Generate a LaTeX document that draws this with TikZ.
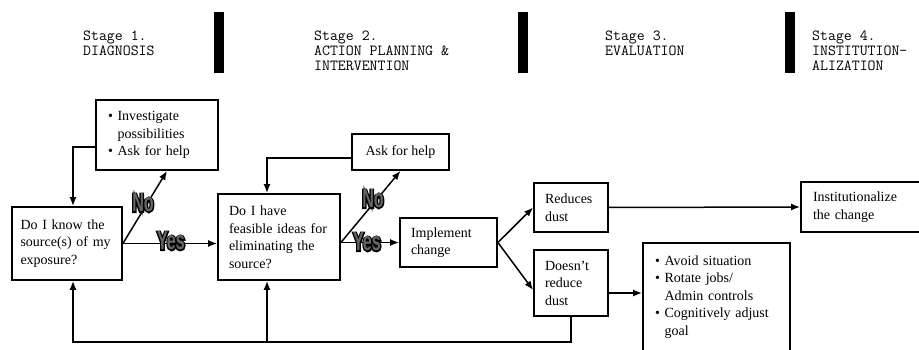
\documentclass[tikz,border=0pt]{standalone}
\usepackage{fontspec}
\setmainfont{Liberation Serif}
\newfontfamily\markfont[FakeStretch=0.62]{Liberation Sans}
\newfontfamily\markheavy[FakeStretch=0.62,FakeBold=10]{Liberation Sans}
\usepackage{tikz}
\usetikzlibrary{arrows.meta,positioning,calc}

\newcommand{\itm}{\textbullet\ }
\newcommand{\hng}{\phantom{\textbullet\ }}
\newcommand{\ynlabel}[1]{\makebox[0pt]{\color{black}\markheavy\bfseries #1}\makebox[0pt]{\color{black!60}\markfont\bfseries #1}}

\begin{document}
\begin{tikzpicture}[x=1pt, y=-1pt,
    box/.style={rectangle, draw, line width=1.8pt, align=left, inner sep=0pt, font=\fontsize{14}{17.5}\selectfont},
    stage/.style={anchor=north west, align=left, inner sep=0pt, font=\ttfamily\addfontfeature{FakeStretch=1.14,FakeBold=1.5}\fontsize{15.4}{15}\selectfont},
    yn/.style={inner sep=0pt, font=\fontsize{26}{26}\selectfont},
    arrow/.style={->, line width=1.5pt, >={Latex[length=9pt,width=7pt]}},
    link/.style={line width=1.5pt}
]
    \useasboundingbox (0,0) rectangle (919,350);

    % Stage headings
    \node[stage] (stage1) at (83,31) {Stage 1.\\DIAGNOSIS};
    \node[stage] (stage2) at (314,31) {Stage 2.\\ACTION PLANNING \&\\INTERVENTION};
    \node[stage] (stage3) at (605,31) {Stage 3.\\EVALUATION};
    \node[stage] (stage4) at (812,31) {Stage 4.\\INSTITUTION-\\ALIZATION};

    % Dividers
    \foreach \x in {214, 518, 785} {
        \fill (\x,12) rectangle (\x+9.5,73);
    }

    % Boxes
    \node[box, minimum width=122, minimum height=70, text width=98] (inv) at (157,135)
        {\itm Investigate\\\hng possibilities\\\itm Ask for help};
    \node[box, minimum width=110, minimum height=73, text width=93] (know) at (67,243.5)
        {Do I know the\\source(s) of my\\exposure?};
    \node[box, minimum width=122, minimum height=86, text width=100] (have) at (279,237)
        {Do I have\\feasible ideas for\\eliminating the\\source?};
    \node[box, minimum width=97, minimum height=36] (ask) at (400.5,152) {Ask for help};
    \node[box, minimum width=97, minimum height=49, text width=75] (impl) at (448.5,242.5)
        {Implement\\change};
    \node[box, minimum width=74, minimum height=49, text width=52] (red) at (571,207.5)
        {Reduces\\dust};
    \node[box, minimum width=74, minimum height=66, text width=52] (nored) at (571,283)
        {Doesn't\\reduce\\dust};
    \node[box, minimum width=147, minimum height=108, text width=123] (avoid) at (716.5,297)
        {\itm Avoid situation\\\itm Rotate jobs/\\\hng Admin controls\\\itm Cognitively adjust\\\hng goal};
    \node[box, minimum width=124, minimum height=50, text width=100] (inst) at (863,207)
        {Institutionalize\\the change};

    % Connectors
    \coordinate (fork1) at (know.east);
    \coordinate (fork2) at (have.east |- impl.west);
    \coordinate (knowIn) at ([xshift=6pt]know.south);
    \coordinate (haveIn) at ([xshift=-12pt]have.south);
    \coordinate (loopL) at (73,342);

    \draw[arrow] ([yshift=-12pt]inv.west) -| ([xshift=6pt]know.north);
    \draw[arrow] (fork1) -- ([xshift=10pt]inv.south);
    \draw[arrow] (fork1) -- (have.west |- fork1);
    \draw[arrow] ([yshift=-6pt]ask.west) -| ([xshift=-12pt]have.north);
    \draw[arrow] (fork2) -- (ask.south);
    \draw[arrow] (fork2) -- (impl.west);
    \draw[arrow] (impl.east) -- (red.west);
    \draw[arrow] (impl.east) -- ([yshift=-7pt]nored.west);
    \draw[arrow] (red.east) -- (inst.west);
    \draw[arrow] ([yshift=-10pt]nored.east) -- ([yshift=-10pt]nored.east -| avoid.west);
    \draw[arrow] (nored.south) |- (loopL) -- (knowIn);
    \draw[arrow] (haveIn |- loopL) -- (haveIn);

    % Yes / No labels
    \node[yn] (no1) at (143,203) {\ynlabel{No}};
    \node[yn] (yes1) at (171,241) {\ynlabel{Yes}};
    \node[yn] (no2) at (373,199) {\ynlabel{No}};
    \node[yn] (yes2) at (367,242) {\ynlabel{Yes}};
\end{tikzpicture}
\end{document}
